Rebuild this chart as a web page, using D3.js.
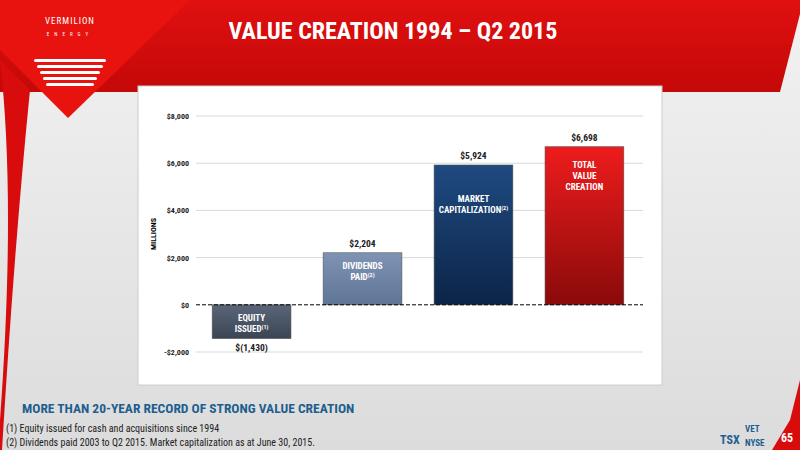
<!DOCTYPE html><html><head><meta charset="utf-8"><script src="https://cdn.jsdelivr.net/npm/d3@7"></script>
<style>body{margin:0}text{font-family:"Liberation Sans Narrow","Roboto Condensed","Liberation Sans",sans-serif}</style></head><body>
<svg id="c" width="800" height="450"></svg>
<script>
const categories=["EQUITY|ISSUED","DIVIDENDS|PAID","MARKET|CAPITALIZATION","TOTAL|VALUE|CREATION"];
const sups=["(1)","(2)","(2)",""];
const values=[-1430,2204,5924,6698];
const valueLabels=["$(1,430)","$2,204","$5,924","$6,698"];
const yTicks=[-2000,0,2000,4000,6000,8000];
const svg=d3.select("#c");
const defs=svg.append("defs");
function grad(id,a,b){const g=defs.append("linearGradient").attr("id",id).attr("x1",0).attr("y1",0).attr("x2",0).attr("y2",1);g.append("stop").attr("offset",0).attr("stop-color",a);g.append("stop").attr("offset",1).attr("stop-color",b);}
grad("g0","#5a6678","#3a4454");grad("g1","#7f94b4","#5f7596");grad("g2","#1f4a80","#0c2448");grad("g3","#ee1c1c","#8a0a0a");grad("hdr","#e01010","#c40808");grad("bg","#f2f2f2","#dcdcdc");
svg.append("rect").attr("width",800).attr("height",450).attr("fill","url(#bg)");
svg.append("path").attr("d","M0,0H800V14L780,92H0Z").attr("fill","url(#hdr)");
svg.append("path").attr("d","M0,0H190L68,118L0,50Z").attr("fill","#e8130f");
svg.append("path").attr("d","M0,60Q16,200 0,420V450H2Q14,250 30,90Z").attr("fill","#d80c0c");
svg.append("path").attr("d","M790,420L800,380V450H772Z").attr("fill","#d80c0c");
svg.append("text").attr("x",70).attr("y",24).attr("text-anchor","middle").attr("fill","#fff").attr("font-size",9).attr("letter-spacing",1).text("VERMILION");
svg.append("text").attr("x",70).attr("y",36).attr("text-anchor","middle").attr("fill","#fff").attr("font-size",5).attr("letter-spacing",5).text("ENERGY");
[0,1,2,3,4].forEach(i=>svg.append("rect").attr("x",34+i*3).attr("y",59+i*6).attr("width",72-i*6).attr("height",3).attr("rx",1.5).attr("fill","#fff"));
svg.append("text").attr("x",393).attr("y",39).attr("text-anchor","middle").attr("fill","#fff").attr("font-size",24).attr("font-weight","bold").text("VALUE CREATION 1994 – Q2 2015");
svg.append("rect").attr("x",138).attr("y",86).attr("width",524).attr("height",299).attr("fill","#fff").attr("stroke","#ccc");
const y=d3.scaleLinear().domain([-2000,8000]).range([352,116]);
const x=d3.scaleBand().domain(categories).range([190,646]).paddingInner(0.29).paddingOuter(0.2);
const g=svg.append("g");
g.selectAll(".gl").data(yTicks.filter(t=>t!==0)).join("line").attr("x1",196).attr("x2",643).attr("y1",d=>y(d)).attr("y2",d=>y(d)).attr("stroke","#d9d9d9");
g.selectAll(".yt").data(yTicks).join("text").attr("x",189).attr("y",d=>y(d)+3).attr("text-anchor","end").attr("font-size",8).attr("font-weight","bold").attr("fill","#222").text(d=>d<0?"-$"+d3.format(",")(-d):"$"+d3.format(",")(d));
svg.append("text").attr("transform","translate(156,234)rotate(-90)").attr("text-anchor","middle").attr("font-size",8).attr("font-weight","bold").text("MILLIONS");
g.selectAll(".bar").data(values).join("rect").attr("x",(d,i)=>x(categories[i])).attr("width",x.bandwidth()).attr("y",d=>y(Math.max(0,d))).attr("height",d=>Math.abs(y(d)-y(0))).attr("fill",(d,i)=>"url(#g"+i+")").attr("stroke","#555").attr("stroke-width",0.6);
g.append("line").attr("x1",196).attr("x2",643).attr("y1",y(0)).attr("y2",y(0)).attr("stroke","#000").attr("stroke-dasharray","4,2");
g.selectAll(".vl").data(values).join("text").attr("x",(d,i)=>x(categories[i])+x.bandwidth()/2).attr("y",d=>d<0?y(d)+12:y(d)-6).attr("text-anchor","middle").attr("font-size",9.5).attr("font-weight","bold").attr("fill","#222").text((d,i)=>valueLabels[i]);
const ly=[{y0:y(0)+16},{y0:y(2204)+16},{y0:y(5924)+37},{y0:y(6698)+21}];
categories.forEach((c,i)=>{const lines=c.split("|");const t=g.append("text").attr("x",x(c)+x.bandwidth()/2).attr("text-anchor","middle").attr("font-size",9).attr("font-weight","bold").attr("fill","#fff");
lines.forEach((l,j)=>{const ts=t.append("tspan").attr("x",x(c)+x.bandwidth()/2).attr("y",ly[i].y0+j*11).text(l);if(j===lines.length-1&&sups[i])ts.append("tspan").attr("font-size",6).attr("dy",-3).text(sups[i]);});});
svg.append("text").attr("x",22).attr("y",413).attr("fill","#1f5f8f").attr("font-size",13.5).attr("font-weight","bold").text("MORE THAN 20-YEAR RECORD OF STRONG VALUE CREATION");
svg.append("text").attr("x",6).attr("y",432).attr("font-size",10).attr("fill","#222").text("(1)  Equity issued for cash and acquisitions since 1994");
svg.append("text").attr("x",6).attr("y",446).attr("font-size",10).attr("fill","#222").text("(2)  Dividends paid 2003 to Q2 2015.  Market capitalization as at June 30, 2015.");
svg.append("text").attr("x",720).attr("y",444).attr("font-size",12).attr("font-weight","bold").attr("fill","#1f5f8f").text("TSX");
svg.append("text").attr("x",745).attr("y",432).attr("font-size",9).attr("font-weight","bold").attr("fill","#1f5f8f").text("VET");
svg.append("text").attr("x",745).attr("y",446).attr("font-size",9).attr("font-weight","bold").attr("fill","#1f5f8f").text("NYSE");
svg.append("text").attr("x",787).attr("y",442).attr("text-anchor","middle").attr("font-size",12).attr("font-weight","bold").attr("fill","#fff").text("65");
</script></body></html>
